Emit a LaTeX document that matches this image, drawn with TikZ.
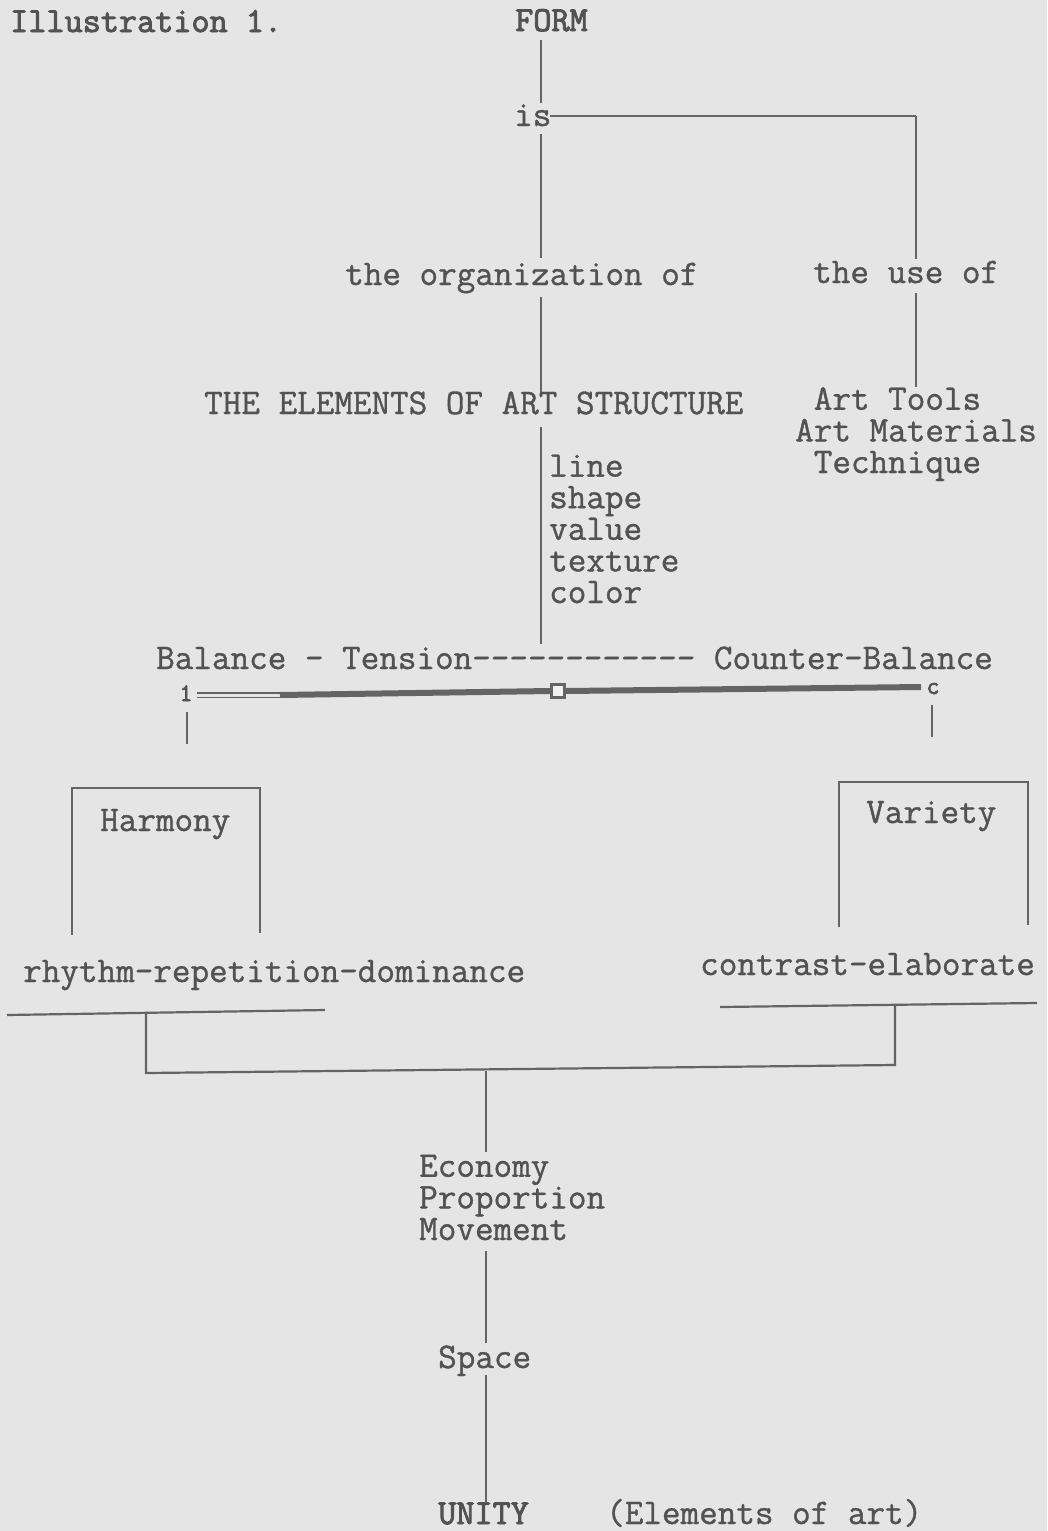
\documentclass[tikz,border=0pt]{standalone}
\usepackage{fontspec}
\newfontfamily\typer{Latin Modern Mono}[FakeBold=1.0]
\newfontfamily\typeb{Latin Modern Mono}[FakeBold=2.6]
\definecolor{ink}{RGB}{82,82,82}
\definecolor{rule}{RGB}{100,100,100}
\definecolor{paper}{RGB}{229,229,229}
\begin{document}
\begin{tikzpicture}[x=1pt,y=-1pt,
  txt/.style={anchor=base west, inner sep=0pt, text=ink,
    text height=22pt, text depth=6pt,
    font=\typer\fontsize{36.1}{36.1}\selectfont},
  % stacked lines: the base anchor sits on the last line
  stack/.style={anchor=base west, inner sep=0pt, text=ink, align=left,
    font=\typer\fontsize{36.1}{31.6}\selectfont},
  heavy/.style={txt, font=\typeb\fontsize{35.2}{35.2}\selectfont},
  tick/.style={inner sep=0pt, text=ink, text height=12pt, text depth=0pt,
    font=\typeb\fontsize{25}{25}\selectfont},
  ln/.style={draw=rule, line width=2.2pt},
  bar/.style={draw=rule, line width=6pt},
]
% page
\fill[paper] (0,0) rectangle (1047,1531);
\useasboundingbox (0,0) rectangle (1047,1531);

% ---- top: form
\node[heavy] (illus) at (10,32) {Illustration 1.};
\node[heavy] (form) at (515,31) {FORM};
\node[txt] (is) at (514,126) {is};
\node[txt] (org) at (345,285) {the organization of};
\node[txt] (use) at (813,283) {the use of};
\node[txt] (elem) at (204,414) {THE ELEMENTS OF ART STRUCTURE};
\node[stack] (tools) at (795,473)
  {\phantom{A}Art Tools\\Art Materials\\\phantom{A}Technique};
\node[stack] (elist) at (549,603) {line\\shape\\value\\texture\\color};

% trunk
\coordinate (a1) at (541,40);  \coordinate (a2) at (541,103);
\coordinate (a3) at (541,134); \coordinate (a4) at (541,258);
\coordinate (a5) at (541,297); \coordinate (a6) at (541,392);
\coordinate (a7) at (541,427); \coordinate (a8) at (541,644);
\draw[ln] (a1) -- (a2);
\draw[ln] (a3) -- (a4);
\draw[ln] (a5) -- (a6);
\draw[ln] (a7) -- (a8);

% branch to the tools
\coordinate (b0) at (550,116); \coordinate (b1) at (916,116);
\coordinate (b2) at (916,259); \coordinate (b3) at (916,293);
\coordinate (b4) at (916,387);
\draw[ln, line width=2.8pt] (b0) -- (b1);
\draw[ln] (b1) -- (b2);
\draw[ln] (b3) -- (b4);

% ---- balance bar
\node[txt] (bal) at (156,669) {Balance - Tension------------ Counter-Balance};
\node[tick] (one) at (186,695) {1};
\node[tick] (two) at (933,688) {c};
\node[draw=rule, line width=3pt, fill=paper!50!white, minimum size=13pt,
      inner sep=0pt] (sq) at (558,691) {};
\coordinate (m1) at (197,693); \coordinate (m2) at (282,693);
\coordinate (m3) at (197,697.5); \coordinate (m4) at (282,697.5);
\draw[rule, line width=1.8pt] (m1) -- (m2);
\draw[rule, line width=1.8pt] (m3) -- (m4);
\coordinate (m5) at (280,695); \coordinate (m6) at (921,687);
\draw[bar] (m5) -- (sq.west);
\draw[bar] (sq.east) -- (m6);

% drops from the bar ends
\coordinate (d1) at (187,712); \coordinate (d2) at (187,744);
\coordinate (d3) at (932,705); \coordinate (d4) at (932,737);
\draw[ln] (d1) -- (d2);
\draw[ln] (d3) -- (d4);

% ---- harmony / variety
\node[txt] (harm) at (100,831) {Harmony};
\node[txt] (vari) at (866,823) {Variety};
\coordinate (h1) at (72,935);  \coordinate (h2) at (72,788);
\coordinate (h3) at (260,788); \coordinate (h4) at (260,933);
\draw[ln] (h1) -- (h2) -- (h3) -- (h4);
\coordinate (v1) at (839,927);  \coordinate (v2) at (839,782);
\coordinate (v3) at (1028,782); \coordinate (v4) at (1028,925);
\draw[ln] (v1) -- (v2) -- (v3) -- (v4);

\node[txt] (rhy) at (23,982) {rhythm-repetition-dominance};
\node[txt] (con) at (700,975) {contrast-elaborate};
\coordinate (u1) at (7,1015);   \coordinate (u2) at (325,1010);
\coordinate (u3) at (720,1007); \coordinate (u4) at (1037,1003);
\draw[ln] (u1) -- (u2);
\draw[ln] (u3) -- (u4);

% bracket joining both sides
\coordinate (k1) at (146,1013); \coordinate (k2) at (146,1073);
\coordinate (k3) at (895,1065); \coordinate (k4) at (895,1005);
\draw[ln] (k1) -- (k2) -- (k3) -- (k4);

% ---- lower trunk
\node[stack] (eco) at (419,1240) {Economy\\Proportion\\Movement};
\node[txt] (spc) at (438,1368) {Space};
\node[heavy] (unity) at (438,1524) {UNITY};
\node[txt] (note) at (606,1524) {(Elements of art)};

\coordinate (c1) at (486,1071); \coordinate (c2) at (486,1152);
\coordinate (c3) at (486,1251); \coordinate (c4) at (486,1343);
\coordinate (c5) at (486,1375); \coordinate (c6) at (486,1503);
\draw[ln] (c1) -- (c2);
\draw[ln] (c3) -- (c4);
\draw[ln] (c5) -- (c6);
\end{tikzpicture}
\end{document}
